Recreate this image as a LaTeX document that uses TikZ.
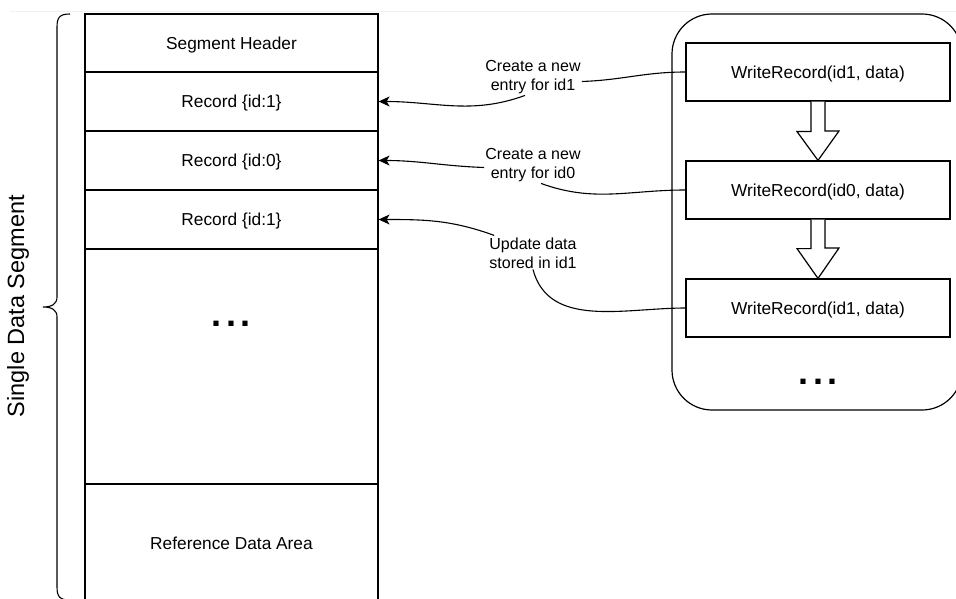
\documentclass[tikz,border=0pt]{standalone}
\usepackage{fontspec}
\setmainfont{Liberation Sans}
\usetikzlibrary{arrows.meta}
\begin{document}
\begin{tikzpicture}[x=1pt,y=-1pt,
  cell/.style={draw, line width=1.2pt, minimum width=293pt, inner sep=0pt, text height=12.4pt, text depth=0pt, font=\fontsize{17.3}{20}\selectfont},
  wbox/.style={draw, line width=1.2pt, minimum width=264pt, minimum height=58pt, inner sep=0pt, text height=12.4pt, text depth=0pt, font=\fontsize{17.3}{20}\selectfont},
  lbl/.style={align=center, inner sep=1pt, font=\fontsize{16}{19}\selectfont},
  conn/.style={line width=1.1pt},
  arr/.style={conn, -{Stealth[length=11pt,width=10pt,inset=3pt]}},
  dots/.style={anchor=base, inner sep=0pt, font=\fontsize{36}{36}\bfseries},
  blockarrow/.style={draw, line width=1.2pt, fill=white, line join=miter}]
\useasboundingbox (0,0) rectangle (956,599);
\draw[gray!12, line width=1pt] (10,12) -- (956,12);

% left column
\node[cell, minimum height=58pt] (hdr) at (231.5,43) {Segment Header};
\node[cell, minimum height=59pt] (r1) at (231.5,101.5) {Record \{id:1\}};
\node[cell, minimum height=59pt] (r2) at (231.5,160.5) {Record \{id:0\}};
\node[cell, minimum height=59pt] (r3) at (231.5,219.5) {Record \{id:1\}};
\node[cell, minimum height=235pt] (rest) at (231.5,366.5) {};
\node[cell, minimum height=118pt] (ref) at (231.5,543) {Reference Data Area};
\node[dots] (d1) at (231,326) {.\kern4.5pt.\kern4.5pt.};

% brace and label
\draw[line width=1.1pt] (70,14) .. controls (60,14) and (57,17) .. (57,27) -- (57,297)
  .. controls (57,304) and (52,307) .. (43,307)
  .. controls (52,307) and (57,310) .. (57,317) -- (57,587)
  .. controls (57,597) and (60,600) .. (70,600);
\node[rotate=90, font=\fontsize{23.5}{26}\selectfont, inner sep=0pt] (seg) at (18,306) {Single Data Segment};

% right container
\node[draw, line width=1.2pt, rounded corners=40pt, minimum width=290pt, minimum height=396pt, inner sep=0pt] (cont) at (817,212) {};
\node[wbox] (w1) at (818,72) {WriteRecord(id1, data)};
\node[wbox] (w2) at (818,190) {WriteRecord(id0, data)};
\node[wbox] (w3) at (818,308) {WriteRecord(id1, data)};
\node[dots] (d2) at (818,384) {.\kern4.5pt.\kern4.5pt.};

\draw[blockarrow] ([xshift=-7pt]w1.south) -- ++(0,30) -- ++(-14,0) -- (w2.north) -- ([xshift=21pt]w1.south |- 0,131) -- ++(-14,0) -- ([xshift=7pt]w1.south);
\draw[blockarrow] ([xshift=-7pt]w2.south) -- ++(0,29) -- ++(-14,0) -- (w3.north) -- ([xshift=21pt]w2.south |- 0,248) -- ++(-14,0) -- ([xshift=7pt]w2.south);

% labels
\node[lbl] (l1) at (533,77.5) {Create a new\\entry for id1};
\node[lbl] (l2) at (533,165.5) {Create a new\\entry for id0};
\node[lbl] (l3) at (533,253) {Update data\\stored in id1};

% connectors
\draw[conn] (w1.west) to[out=180,in=2] ([yshift=-4pt]l1.east);
\draw[arr] ([xshift=-8pt]l1.south) to[out=200,in=0] (r1.east);
\draw[conn] (w2.west) to[out=180,in=-20] ([xshift=8pt]l2.south);
\draw[arr] ([yshift=-2pt]l2.west) to[out=178,in=0] (r2.east);
\draw[arr] ([xshift=6pt,yshift=1pt]l3.north west) to[out=160,in=0] (r3.east);
\draw[conn] (w3.west) to[out=180,in=-75] (l3.south);
\end{tikzpicture}
\end{document}
